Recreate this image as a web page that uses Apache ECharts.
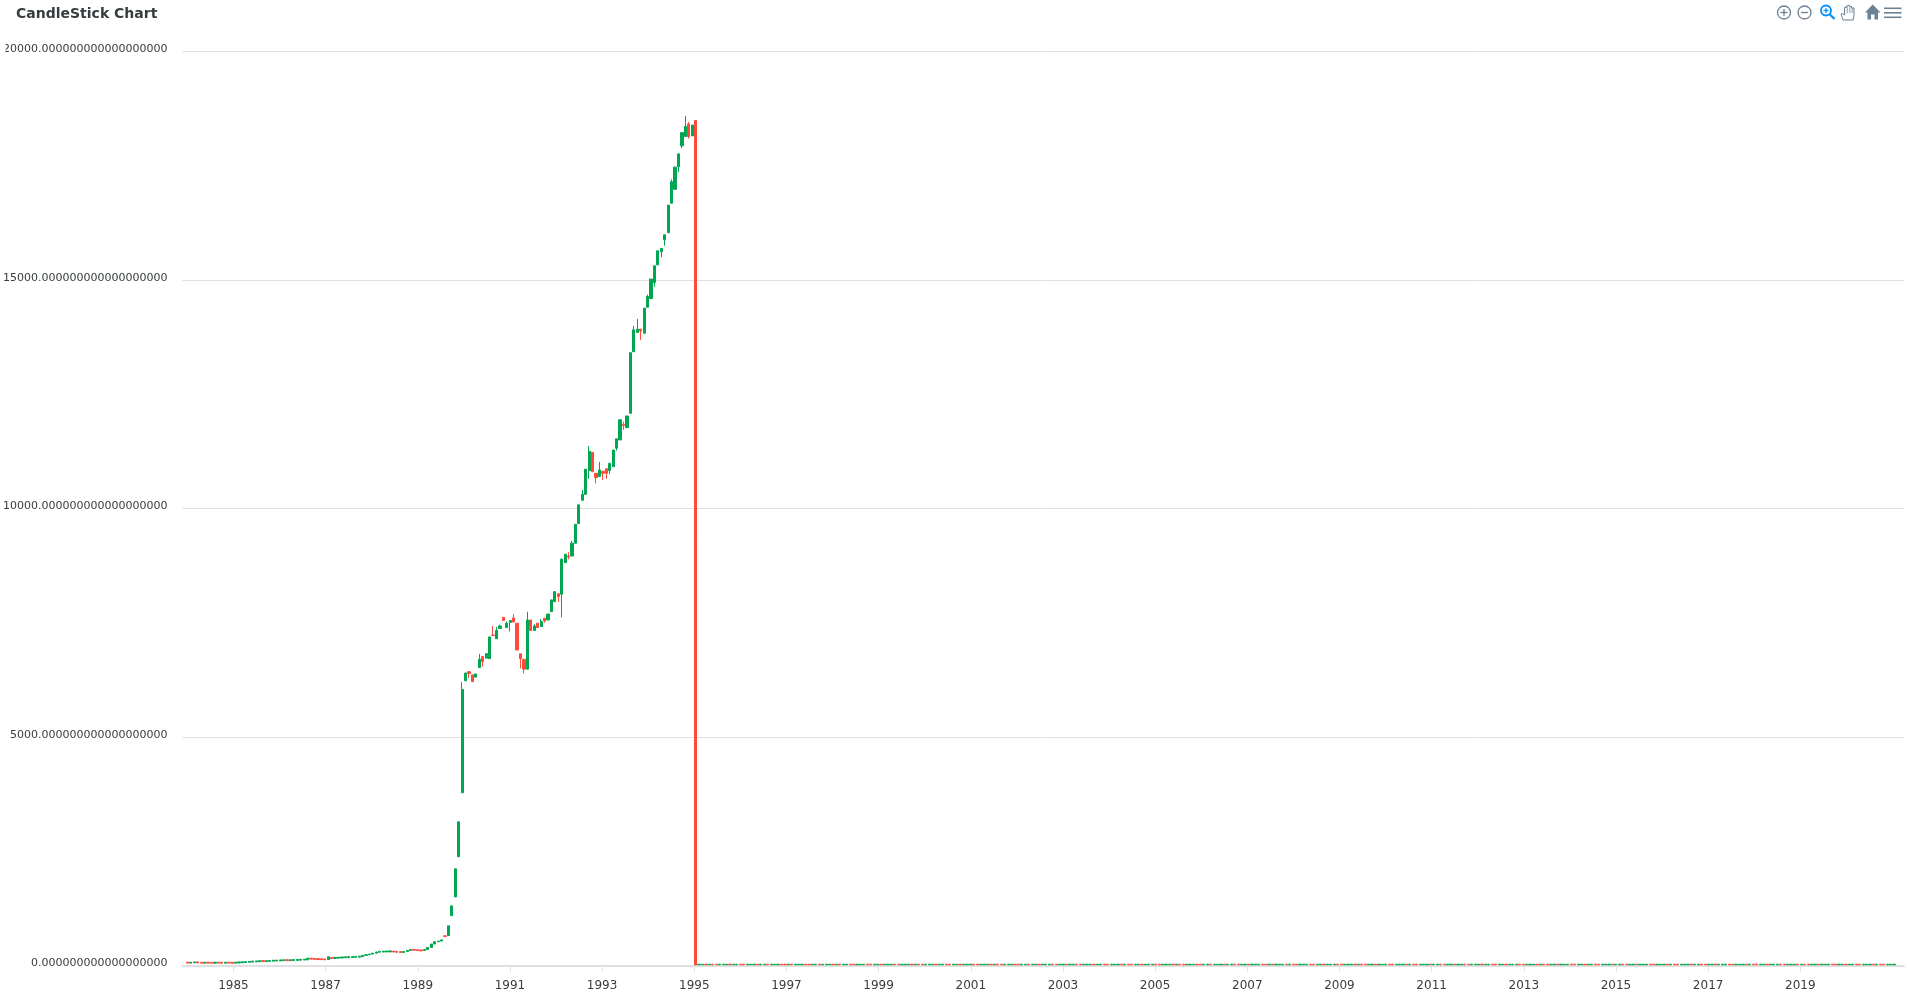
<!DOCTYPE html>
<html>
<head>
<meta charset="utf-8">
<style>html,body{margin:0;padding:0;background:#fff}#chart{width:1907px;height:1006px}</style>
<script src="https://cdn.jsdelivr.net/npm/echarts@6/dist/echarts.min.js"></script>
</head>
<body>
<div id="chart"></div>
<script>
const chartTitle = 'CandleStick Chart';
const yearTicks = [1985,1987,1989,1991,1993,1995,1997,1999,2001,2003,2005,2007,2009,2011,2013,2015,2017,2019];
const firstYear = 1984.002;
const yearStep = 0.07451;

// candles 0-79
const earlyOpen = [72,52,60,78,70,50,72,68,50,72,70,50,72,70,50,56,60,66,70,74,80,84,106,86,90,94,98,100,106,126,106,108,112,116,120,124,160,154,150,148,144,130,175,155,160,164,170,172,176,178,182,192,220,235,250,270,290,294,296,298,315,310,305,285,305,330,350,345,340,330,350,395,470,520,535,650,654,1090,1500,2380];
const earlyClose = [52,72,78,58,50,72,52,50,72,52,50,72,52,50,72,78,82,86,90,96,100,106,86,106,110,116,118,122,126,106,126,130,132,136,140,160,140,134,130,128,124,190,155,176,180,186,190,194,196,200,204,220,235,250,270,295,310,314,318,320,295,290,285,305,330,350,335,325,320,350,395,470,520,535,560,635,868,1305,2116,3144];

// candles 80-148
const riseOpen = [3780,6230,6430,6360,6310,6520,6760,6725,6715,7230,7150,7375,7620,7395,7505,7605,7490,6820,6700,6485,7560,7330,7490,7415,7600,7560,7745,7960,8135,8125,8815,8960,8960,9240,9670,10180,10310,10830,11230,10770,10700,10815,10870,10830,10915,11320,11500,11840,11770,12085,13430,13850,13925,13835,14405,14595,14945,15330,15620,15880,16035,16680,16985,17480,17935,18140,18415,18155,18490];
const riseClose = [6040,6400,6390,6210,6380,6700,6650,6825,7190,7220,7330,7430,7550,7490,7550,7515,6905,6715,6485,7560,7330,7430,7395,7525,7540,7690,8000,8180,8075,8890,9000,8940,9240,9655,10080,10310,10860,11250,10805,10675,10845,10770,10770,10990,11280,11525,11940,11820,12025,13410,13910,13925,13880,14385,14640,15020,15310,15640,15690,15990,16640,17150,17470,17760,18225,18360,18140,18390,12];
const riseLow = [null,null,6290,null,null,null,6540,null,null,null,null,null,null,null,7310,null,null,6505,6395,null,null,null,null,null,7500,null,null,null,7960,7620,null,8890,null,null,null,null,null,10650,null,10550,null,10625,10650,10750,null,11265,null,11720,null,null,null,null,13690,null,null,null,14855,null,15500,15750,null,null,null,17360,17885,null,18095,null,null];
const riseHigh = [6200,null,null,null,null,6820,null,null,null,7430,7410,7460,null,7530,null,7690,null,null,null,7740,null,7470,null,7585,null,null,null,null,null,8910,null,9045,9290,null,null,10405,null,11370,null,null,11020,null,null,null,null,null,null,11900,null,null,13995,14145,null,null,14680,null,null,null,null,null,null,17200,null,null,null,18590,18460,null,null];

// candles 149 onward, all inside one thin band just above the axis
const laterOpen = [
16,16,28,16,28,28,16,16,16,28,
16,16,28,28,16,16,16,28,16,16,
28,16,16,16,28,28,16,28,16,16,
16,28,28,16,16,28,16,16,16,28,
16,28,16,16,28,28,16,16,16,28,
28,16,16,28,16,16,16,28,28,16,
16,16,28,16,28,28,16,16,16,28,
16,16,28,28,16,16,28,16,16,16,
28,28,16,16,16,28,16,28,28,16,
16,16,28,28,16,16,28,16,16,28,
16,16,16,28,28,16,16,28,16,16,
28,28,16,16,16,28,16,16,28,28,
16,16,16,28,16,28,28,16,16,28,
16,16,16,28,28,16,16,16,28,16,
28,28,16,16,16,28,28,16,16,28,
16,16,16,28,16,16,28,28,16,16,
28,16,16,16,28,28,16,28,16,16,
16,28,16,28,28,16,16,16,28,28,
16,16,28,16,16,16,28,28,16,16,
16,28,16,28,28,16,16,28,16,16,
16,28,28,16,16,16,28,16,28,28,
16,16,16,28,16,16,28,28,16,16,
28,16,16,28,28,16,16,16,28,16,
16,28,28,16,16,28,16,16,16,28,
28,16,16,16,28,16,28,28,16,16,
28,16,16,16,28,28,16,16,28,16,
16,28,28,16,16,16,28,16,16,28,
28,16,16,28,16,16,16,28,28,16,
16,16,28,16,28,28,16,16,16,28,
16,16,28,28,16,16,28,16,16,16,
28,28,16,16,16,28,16,28,28,16,
16,28,16,16,16,28,28,16,16,16,
28,16,28,28,16,16,28,16,16,16,
28,28,16,16,28,16,16,28,28,16,
16,16,28,16,28,28,16,16,16
];
const laterClose = [
28,28,16,28,16,16,28,28,28,16,
28,28,16,16,28,28,28,16,28,28,
16,28,28,28,16,16,28,16,28,28,
28,16,16,28,28,16,28,28,28,16,
28,16,28,28,16,16,28,28,28,16,
16,28,28,16,28,28,28,16,16,28,
28,28,16,28,16,16,28,28,28,16,
28,28,16,16,28,28,16,28,28,28,
16,16,28,28,28,16,28,16,16,28,
28,28,16,16,28,28,16,28,28,16,
28,28,28,16,16,28,28,16,28,28,
16,16,28,28,28,16,28,28,16,16,
28,28,28,16,28,16,16,28,28,16,
28,28,28,16,16,28,28,28,16,28,
16,16,28,28,28,16,16,28,28,16,
28,28,28,16,28,28,16,16,28,28,
16,28,28,28,16,16,28,16,28,28,
28,16,28,16,16,28,28,28,16,16,
28,28,16,28,28,28,16,16,28,28,
28,16,28,16,16,28,28,16,28,28,
28,16,16,28,28,28,16,28,16,16,
28,28,28,16,28,28,16,16,28,28,
16,28,28,16,16,28,28,28,16,28,
28,16,16,28,28,16,28,28,28,16,
16,28,28,28,16,28,16,16,28,28,
16,28,28,28,16,16,28,28,16,28,
28,16,16,28,28,28,16,28,28,16,
16,28,28,16,28,28,28,16,16,28,
28,28,16,28,16,16,28,28,28,16,
28,28,16,16,28,28,16,28,28,28,
16,16,28,28,28,16,28,16,16,28,
28,16,28,28,28,16,16,28,28,28,
16,28,16,16,28,28,16,28,28,28,
16,16,28,28,16,28,28,16,16,28,
28,28,16,28,16,16,28,28,28
];

const candles = [];
function pushCandle(open, close, low, high) {
  const x = firstYear + candles.length * yearStep;
  candles.push([x, open, close, low == null ? Math.min(open, close) : low, high == null ? Math.max(open, close) : high]);
}
earlyOpen.forEach((o, i) => pushCandle(o, earlyClose[i]));
riseOpen.forEach((o, i) => pushCandle(o, riseClose[i], riseLow[i], riseHigh[i]));
laterOpen.forEach((o, i) => pushCandle(o, laterClose[i]));

const UP = '#00A650', DOWN = '#FF4A3A', TEXT = '#373d3f', GRID = '#e0e0e0';
const ICON = '#6E8192', ACTIVE = '#008FFB';

const chart = echarts.init(document.getElementById('chart'), null, {renderer:'canvas'});
chart.setOption({
  animation: false,
  backgroundColor: '#fff',
  textStyle: {fontFamily: '"DejaVu Sans"'},
  title: {
    text: chartTitle, left: 11, top: 2,
    textStyle: {fontFamily: '"DejaVu Sans"', fontSize: 14, fontWeight: 'bold', color: TEXT}
  },
  grid: {left: 182, right: 3, top: 51.5, bottom: 40.5, containLabel: false},
  xAxis: {
    type: 'value', min: 1983.894, max: 2021.25, splitLine: {show: false},
    axisLine: {show: true, onZero: false, lineStyle: {color: GRID, width: 2}},
    axisTick: {show: true, length: 6, lineStyle: {color: GRID}, customValues: yearTicks},
    axisLabel: {
      customValues: yearTicks, formatter: v => String(v), margin: 14,
      fontSize: 12, color: TEXT, fontFamily: '"DejaVu Sans"'
    }
  },
  yAxis: {
    type: 'value', min: 0, max: 20000, interval: 5000,
    axisLine: {show: false}, axisTick: {show: false},
    splitLine: {show: true, lineStyle: {color: GRID, width: 1}},
    axisLabel: {
      formatter: v => v.toFixed(18), margin: 15, fontSize: 11, color: TEXT,
      fontFamily: '"DejaVu Sans"', verticalAlign: 'bottom', lineHeight: 4
    }
  },
  series: [{
    type: 'candlestick', data: candles, barWidth: 2.7,
    itemStyle: {color: UP, color0: DOWN, borderColor: UP, borderColor0: DOWN, borderWidth: 1}
  }],
  graphic: [
    {type:'rect', z:100, shape:{x:0,y:40,width:5.5,height:20}, style:{fill:'#fff'}},
    {type:'circle', shape:{cx:1784,cy:12.5,r:6.5}, style:{fill:'none',stroke:ICON,lineWidth:1.3}},
    {type:'line', shape:{x1:1780.5,y1:12.5,x2:1787.5,y2:12.5}, style:{stroke:ICON,lineWidth:1.3}},
    {type:'line', shape:{x1:1784,y1:9,x2:1784,y2:16}, style:{stroke:ICON,lineWidth:1.3}},
    {type:'circle', shape:{cx:1804.5,cy:12.5,r:6.5}, style:{fill:'none',stroke:ICON,lineWidth:1.3}},
    {type:'line', shape:{x1:1801,y1:12.5,x2:1808,y2:12.5}, style:{stroke:ICON,lineWidth:1.3}},
    {type:'circle', shape:{cx:1826,cy:10.5,r:5}, style:{fill:'none',stroke:ACTIVE,lineWidth:1.8}},
    {type:'line', shape:{x1:1823.5,y1:10.5,x2:1828.5,y2:10.5}, style:{stroke:ACTIVE,lineWidth:1.3}},
    {type:'line', shape:{x1:1826,y1:8,x2:1826,y2:13}, style:{stroke:ACTIVE,lineWidth:1.3}},
    {type:'line', shape:{x1:1830,y1:14.5,x2:1834.5,y2:19}, style:{stroke:ACTIVE,lineWidth:2.2}},
    {type:'polygon', shape:{points:[[1843,20],[1841,14],[1842.5,13.5],[1844.5,15],[1844.5,7.5],[1846.3,7.5],[1846.3,6],[1848,6],[1848,5.5],[1849.8,5.5],[1849.8,6.5],[1851.5,6.5],[1851.5,8],[1854,8],[1854,16],[1853,20]]}, style:{fill:'#fff',stroke:ICON,lineWidth:1}},
    {type:'line', shape:{x1:1847.2,y1:7,x2:1847.2,y2:13}, style:{stroke:ICON,lineWidth:0.8}},
    {type:'line', shape:{x1:1849.8,y1:7,x2:1849.8,y2:13}, style:{stroke:ICON,lineWidth:0.8}},
    {type:'line', shape:{x1:1852.2,y1:8,x2:1852.2,y2:13}, style:{stroke:ICON,lineWidth:0.8}},
    {type:'polygon', shape:{points:[[1872.7,4.5],[1880.5,12.5],[1878,12.5],[1878,19.5],[1874.5,19.5],[1874.5,14.5],[1871,14.5],[1871,19.5],[1867.5,19.5],[1867.5,12.5],[1865,12.5]]}, style:{fill:ICON}},
    {type:'rect', shape:{x:1884,y:7.5,width:17.5,height:1.6}, style:{fill:ICON}},
    {type:'rect', shape:{x:1884,y:12,width:17.5,height:1.6}, style:{fill:ICON}},
    {type:'rect', shape:{x:1884,y:16.5,width:17.5,height:1.6}, style:{fill:ICON}}
  ]
});
</script>
</body>
</html>
